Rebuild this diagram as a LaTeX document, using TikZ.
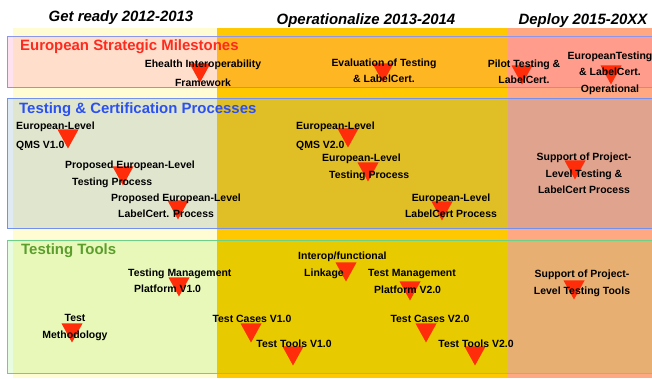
\documentclass[tikz,border=0pt]{standalone}
\usepackage{fontspec}
\setmainfont{Liberation Sans}
\usepackage{tikz}
\usetikzlibrary{shapes.geometric}
\definecolor{readycol}{HTML}{FFFBD2}
\definecolor{operacol}{HTML}{FFC800}
\definecolor{deploycol}{HTML}{FFA882}
\definecolor{mstitle}{HTML}{FF2A1E}
\definecolor{proctitle}{HTML}{2B50F2}
\definecolor{tooltitle}{HTML}{5C9E2E}
\definecolor{msfill}{RGB}{255,110,175}
\definecolor{procfill}{RGB}{100,150,190}
\definecolor{toolfill}{RGB}{60,230,0}
\definecolor{msline}{HTML}{8C96EE}
\definecolor{procline}{HTML}{7290F0}
\definecolor{toolline}{HTML}{6CD088}
\definecolor{marker}{RGB}{255,45,10}
\tikzstyle{period}=[font=\fontsize{15}{18}\selectfont\bfseries\itshape, anchor=base, inner sep=0pt]
\tikzstyle{band}=[font=\fontsize{15}{18}\selectfont\bfseries, anchor=base west, inner sep=0pt]
\tikzstyle{milestone}=[isosceles triangle, isosceles triangle stretches, shape border rotate=270, minimum width=21bp, minimum height=19bp, inner sep=0pt, fill=marker, anchor=apex]
\tikzstyle{task}=[font=\fontsize{10.5}{16.5}\selectfont\bfseries, align=center, inner sep=0pt]
\tikzstyle{taskl}=[task, align=left, anchor=west]

\begin{document}
\begin{tikzpicture}[x=1bp, y=-1bp]
  \useasboundingbox (0,0) rectangle (652,378);
  \clip (0,0) rectangle (652,378);

  % periods
  \fill[readycol] (13,28) rectangle (217,378);
  \fill[operacol] (217,28) rectangle (508,378);
  \fill[deploycol] (508,28) rectangle (652,378);
  \node[period] (ready) at (121,21.5) {Get ready 2012-2013};
  \node[period] (opera) at (366,24) {Operationalize 2013-2014};
  \node[period] (deploy) at (583,24) {Deploy 2015-20XX};

  % bands
  \draw[msline, line width=1bp, fill=msfill, fill opacity=0.2] (7,36) rectangle (665,87);
  \draw[procline, line width=1bp, fill=procfill, fill opacity=0.2] (7,98) rectangle (665,228);
  \draw[toolline, line width=1bp, fill=toolfill, fill opacity=0.12] (7,240) rectangle (665,373);
  \node[band, text=mstitle] (mstxt) at (20,50) {European Strategic Milestones};
  \node[band, text=proctitle] (proctxt) at (19,113.3) {Testing \& Certification Processes};
  \node[band, text=tooltitle] (tooltxt) at (21,254.3) {Testing Tools};

  % milestones
  \node[milestone] (ehealth) at (200,83) {};
  \node[milestone] (eval) at (383,83) {};
  \node[milestone] (pilot) at (522,85) {};
  \node[milestone] (euopr) at (611,85) {};
  \node[milestone] (qmsa) at (68,149) {};
  \node[milestone] (ptest) at (123,186) {};
  \node[milestone] (plabel) at (178,220) {};
  \node[milestone] (qmsb) at (348,148) {};
  \node[milestone] (etest) at (368,182) {};
  \node[milestone] (elabel) at (442,221) {};
  \node[milestone] (supproc) at (575,180) {};
  \node[milestone] (tmpa) at (179,297) {};
  \node[milestone] (method) at (72,343) {};
  \node[milestone] (casesa) at (251,343) {};
  \node[milestone] (toolsa) at (293,366) {};
  \node[milestone] (interop) at (346,282) {};
  \node[milestone] (tmpb) at (410,301) {};
  \node[milestone] (casesb) at (426,343) {};
  \node[milestone] (toolsb) at (475,366) {};
  \node[milestone] (suptool) at (574,300) {};

  % labels
  \node[task] (ehealthtxt) at (203,73) {Ehealth Interoperability\\[2.5bp]Framework};
  \node[task] (evaltxt) at (384,71) {Evaluation of Testing\\\& LabelCert.};
  \node[task] (pilottxt) at (524,72) {Pilot Testing \&\\LabelCert.};
  \node[task] (euoprtxt) at (610,73) {EuropeanTesting\\\& LabelCert.\\Operational};
  \node[taskl] (qmsatxt) at (16,136) {European-Level\\[2.5bp]QMS V1.0};
  \node[taskl] (ptesttxt) at (65,174.5) {Proposed European-Level\\\hspace*{7bp}Testing Process};
  \node[taskl] (plabeltxt) at (111,205.5) {Proposed European-Level\\\hspace*{7bp}LabelCert. Process};
  \node[taskl] (qmsbtxt) at (296,136) {European-Level\\[2.5bp]QMS V2.0};
  \node[taskl] (etesttxt) at (322,167.5) {European-Level\\\hspace*{7bp}Testing Process};
  \node[task] (elabeltxt) at (451,205.5) {European-Level\\LabelCert Process};
  \node[task] (supproctxt) at (584,173.5) {Support of Project-\\Level Testing \&\\LabelCert Process};
  \node[taskl] (tmpatxt) at (128,280.5) {Testing Management\\\hspace*{6bp}Platform V1.0};
  \node[task] (methodtxt) at (75,327.5) {Test\\Methodology};
  \node[task] (casesatxt) at (252,319) {Test Cases V1.0};
  \node[task] (toolsatxt) at (294,344) {Test Tools V1.0};
  \node[taskl] (interoptxt) at (298,265.5) {Interop/functional\\\hspace*{6bp}Linkage};
  \node[taskl] (tmpbtxt) at (368,281.5) {Test Management\\\hspace*{6bp}Platform V2.0};
  \node[task] (casesbtxt) at (430,319) {Test Cases V2.0};
  \node[task] (toolsbtxt) at (476,344) {Test Tools V2.0};
  \node[task] (suptooltxt) at (582,283.5) {Support of Project-\\Level Testing Tools};
\end{tikzpicture}
\end{document}
